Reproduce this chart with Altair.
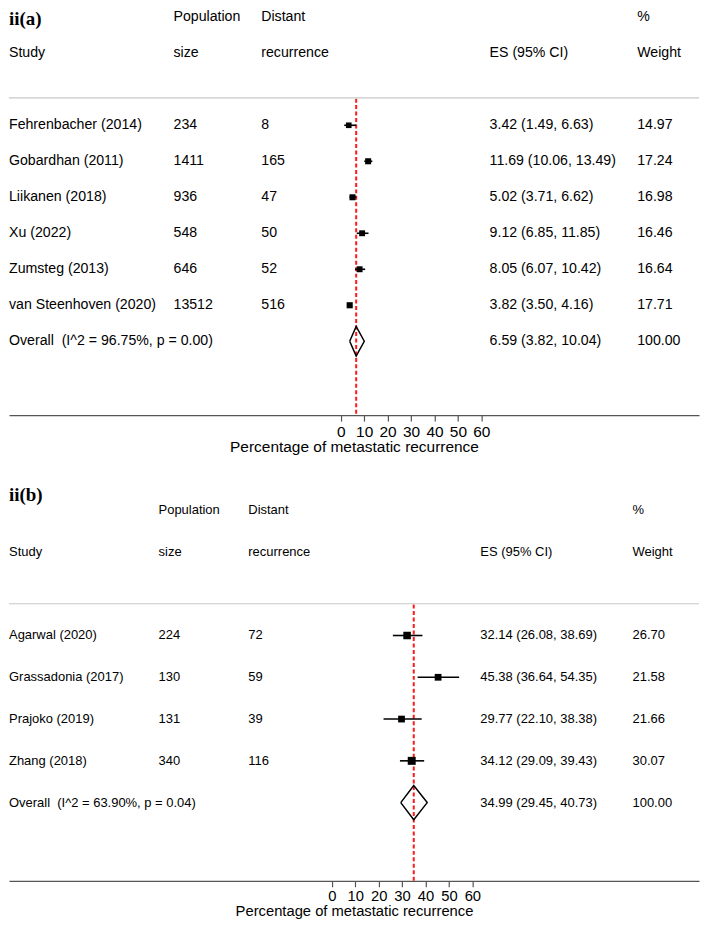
import altair as alt
import pandas as pd

FONT = "Liberation Sans"
W = 692

# ---------------- data: panel ii(a) ----------------
studies_a = ["Fehrenbacher (2014)", "Gobardhan (2011)", "Liikanen (2018)", "Xu (2022)",
             "Zumsteg (2013)", "van Steenhoven (2020)"]
pop_a = [234, 1411, 936, 548, 646, 13512]
dist_a = [8, 165, 47, 50, 52, 516]
es_a = [3.42, 11.69, 5.02, 9.12, 8.05, 3.82]
lo_a = [1.49, 10.06, 3.71, 6.85, 6.07, 3.50]
hi_a = [6.63, 13.49, 6.62, 11.85, 10.42, 4.16]
w_a = [14.97, 17.24, 16.98, 16.46, 16.64, 17.71]
overall_a = [6.59, 3.82, 10.04]
overall_label_a = "Overall\u00a0 (I^2 = 96.75%, p = 0.00)"

# ---------------- data: panel ii(b) ----------------
studies_b = ["Agarwal (2020)", "Grassadonia (2017)", "Prajoko (2019)", "Zhang (2018)"]
pop_b = [224, 130, 131, 340]
dist_b = [72, 59, 39, 116]
es_b = [32.14, 45.38, 29.77, 34.12]
lo_b = [26.08, 36.64, 22.10, 29.09]
hi_b = [38.69, 54.35, 38.38, 39.43]
w_b = [26.70, 21.58, 21.66, 30.07]
overall_b = [34.99, 29.45, 40.73]
overall_label_b = "Overall\u00a0 (I^2 = 63.90%, p = 0.04)"

header_top = ["", "Population", "Distant", "", "%"]
header_bottom = ["Study", "size", "recurrence", "ES (95% CI)", "Weight"]
tick_values = [0, 10, 20, 30, 40, 50, 60]
axis_title = "Percentage of metastatic recurrence"


def make_panel(label, studies, pop, dist, es, lo, hi, w, ov, ov_label, *,
               fs, axfs, cols, x0, ppu, row0_y, row_h, top_y, axis_y,
               size_max, label_y, lab_pad, title_pad):
    n = len(studies)
    height = axis_y - top_y
    r_top = 1 + (top_y - row0_y) / row_h
    r_bot = 1 + (axis_y - row0_y) / row_h
    xs = alt.Scale(domain=[-x0 / ppu, (W - x0) / ppu], nice=False, zero=False)
    ys = alt.Scale(domain=[r_top, r_bot], reverse=True, nice=False, zero=False)
    xaxis = alt.Axis(values=tick_values, title=axis_title, grid=False,
                     domainColor="#555", domainWidth=1.2,
                     tickColor="#555", tickWidth=1.2, tickSize=6,
                     labelFont=FONT, labelFontSize=axfs, labelColor="black",
                     labelPadding=lab_pad, labelOverlap=False,
                     titleFont=FONT, titleFontSize=axfs,
                     titleFontWeight="normal", titleColor="black",
                     titlePadding=title_pad)

    studies_df = pd.DataFrame({
        "row": list(range(1, n + 1)),
        "es": es, "lo": lo, "hi": hi, "w": w,
    })

    txt_rows = []
    for i in range(n):
        txt_rows.append({
            "row": i + 1, "c0": studies[i], "c1": str(pop[i]), "c2": str(dist[i]),
            "c3": f"{es[i]:.2f} ({lo[i]:.2f}, {hi[i]:.2f})", "c4": f"{w[i]:.2f}",
        })
    txt_rows.append({"row": n + 1, "c0": ov_label, "c1": "", "c2": "",
                     "c3": f"{ov[0]:.2f} ({ov[1]:.2f}, {ov[2]:.2f})", "c4": "100.00"})
    txt_rows.append(dict(row=-2, **{f"c{k}": header_top[k] for k in range(5)}))
    txt_rows.append(dict(row=-1, **{f"c{k}": header_bottom[k] for k in range(5)}))
    txt_df = pd.DataFrame(txt_rows)

    r_ov = n + 1
    dia_df = pd.DataFrame({
        "x": [ov[1], ov[0], ov[2], ov[0], ov[1]],
        "y": [r_ov, r_ov - 0.41, r_ov, r_ov + 0.41, r_ov],
        "o": [0, 1, 2, 3, 4],
    })

    ref = alt.Chart(pd.DataFrame({"es": [ov[0]], "r": [0.26]})).mark_rule(
        color="#ff1a1a", strokeWidth=2, strokeDash=[4, 2.5]
    ).encode(x=alt.X("es:Q", scale=xs, axis=xaxis),
             y=alt.Y("r:Q", scale=ys, axis=None), y2=alt.value(height))

    sep = alt.Chart(pd.DataFrame({"r": [0.24]})).mark_rule(
        color="#c8c8c8", strokeWidth=1.2
    ).encode(x=alt.value(0), x2=alt.value(W), y=alt.Y("r:Q", scale=ys, axis=None))

    ci = alt.Chart(studies_df).mark_rule(color="black", strokeWidth=1.6).encode(
        x=alt.X("lo:Q", scale=xs, axis=xaxis),
        x2="hi:Q",
        y=alt.Y("row:Q", scale=ys, axis=None),
    )

    sq = alt.Chart(studies_df).mark_square(color="black", opacity=1).encode(
        x=alt.X("es:Q", scale=xs, axis=xaxis),
        y=alt.Y("row:Q", scale=ys, axis=None),
        size=alt.Size("w:Q", scale=alt.Scale(domain=[0, max(w)], range=[0, size_max]),
                      legend=None),
    )

    dia = alt.Chart(dia_df).mark_line(color="black", strokeWidth=1.5).encode(
        x=alt.X("x:Q", scale=xs, axis=xaxis),
        y=alt.Y("y:Q", scale=ys, axis=None),
        order="o:Q",
    )

    texts = []
    for k, cx in enumerate(cols):
        texts.append(
            alt.Chart(txt_df).mark_text(
                align="left", baseline="middle", font=FONT, fontSize=fs, color="black"
            ).encode(x=alt.value(cx), y=alt.Y("row:Q", scale=ys, axis=None),
                     text=f"c{k}:N")
        )

    title = alt.Chart(pd.DataFrame({"t": [label]})).mark_text(
        align="left", baseline=("top" if label_y is None else "middle"),
        font="Liberation Serif", fontWeight="bold", fontSize=19, color="black"
    ).encode(x=alt.value(0), y=alt.value(0 if label_y is None else label_y), text="t:N")

    return alt.layer(ref, sep, ci, sq, dia, *texts, title).properties(
        width=W, height=height
    )


pa = make_panel("ii(a)", studies_a, pop_a, dist_a, es_a, lo_a, hi_a, w_a,
                overall_a, overall_label_a,
                fs=14.2, axfs=15.5, cols=[0, 165, 253, 482, 630],
                x0=332.7, ppu=2.35, row0_y=115.3, row_h=36.1, top_y=0,
                axis_y=406, size_max=64, label_y=None, lab_pad=3, title_pad=0)

pb = make_panel("ii(b)", studies_b, pop_b, dist_b, es_b, lo_b, hi_b, w_b,
                overall_b, overall_label_b,
                fs=13, axfs=14.8, cols=[0, 150, 240, 472.7, 625.3],
                x0=323.7, ppu=2.35, row0_y=168, row_h=41.9, top_y=0,
                axis_y=414, size_max=55, label_y=27.5, lab_pad=2, title_pad=0)

chart = alt.vconcat(pa, pb, spacing=13).properties(
    padding=0
).configure_view(stroke=None)

chart.save("out.html", embed_options={"renderer": "svg", "actions": False})
